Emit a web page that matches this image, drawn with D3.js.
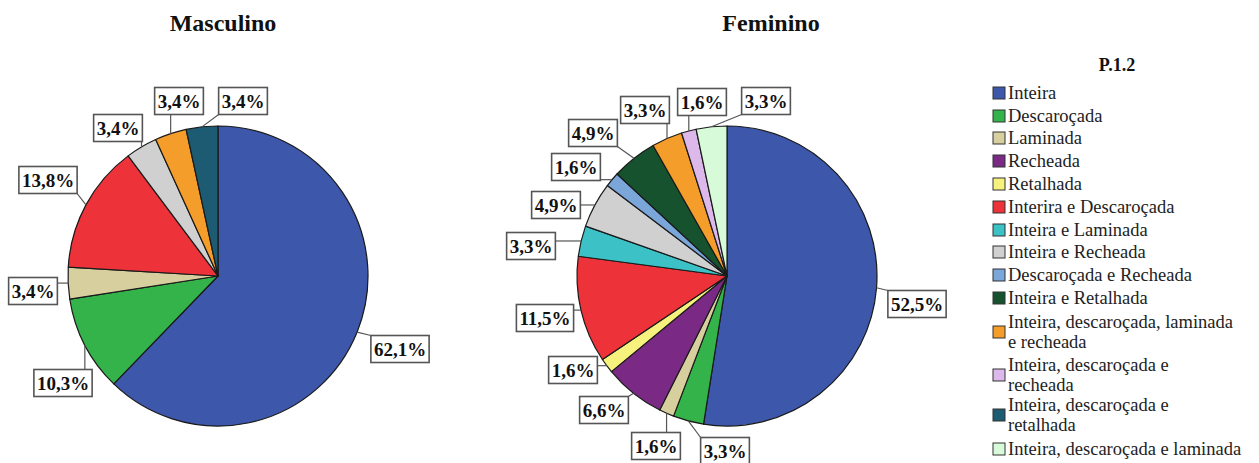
<!DOCTYPE html>
<html>
<head>
<meta charset="utf-8">
<script src="https://cdn.jsdelivr.net/npm/d3@7"></script>
<style>
  html, body { margin: 0; padding: 0; background: #fff; }
  svg { display: block; }
</style>
</head>
<body>
<svg id="chart" width="1259" height="463"></svg>
<script>
// ---- data ----
const categories = [
  "Inteira",
  "Descaroçada",
  "Laminada",
  "Recheada",
  "Retalhada",
  "Interira e Descaroçada",
  "Inteira e Laminada",
  "Inteira e Recheada",
  "Descaroçada e Recheada",
  "Inteira e Retalhada",
  "Inteira, descaroçada, laminada e recheada",
  "Inteira, descaroçada e recheada",
  "Inteira, descaroçada e retalhada",
  "Inteira, descaroçada e laminada"
];
const masculinoValues = [62.1, 10.3, 3.4, 0, 0, 13.8, 0, 3.4, 0, 0, 3.4, 0, 3.4, 0];
const femininoValues  = [52.5, 3.3, 1.6, 6.6, 1.6, 11.5, 3.3, 4.9, 1.6, 4.9, 3.3, 1.6, 0, 3.3];
const panelTitles = ["Masculino", "Feminino"];
const legendTitle = "P.1.2";
// legend text split into lines as shown in the picture
const legendLines = [
  ["Inteira"], ["Descaroçada"], ["Laminada"], ["Recheada"], ["Retalhada"],
  ["Interira e Descaroçada"], ["Inteira e Laminada"], ["Inteira e Recheada"],
  ["Descaroçada e Recheada"], ["Inteira e Retalhada"],
  ["Inteira, descaroçada, laminada", "e recheada"],
  ["Inteira, descaroçada e", "recheada"],
  ["Inteira, descaroçada e", "retalhada"],
  ["Inteira, descaroçada e laminada"]
];

// ---- styles / layout ----
const colors = [
  "#3d57ab", "#33b34a", "#d8cf9e", "#7a2a84", "#f7f27e", "#ed3239", "#3cc2c6",
  "#d0d0d0", "#7aa6da", "#17522e", "#f59d2a", "#dcb9ea", "#1c5b72", "#d7fbd8"
];
const pies = [
  { values: masculinoValues, cx: 218, cy: 276, r: 150, titleX: 223,
    labelPos: {0:[400,349],1:[63,383],2:[33,291],5:[48,180],7:[118,128],10:[179,101],12:[243,101]} },
  { values: femininoValues, cx: 727, cy: 276, r: 150, titleX: 771,
    labelPos: {0:[917,304],1:[725,451],2:[656,446],3:[604,410],4:[573,370],5:[545,318],
               6:[531,246],7:[556,205],8:[576,167],9:[593,133],10:[645,110],11:[702,102],13:[766,101]} }
];

const svg = d3.select("#chart");
svg.append("rect").attr("width", 1259).attr("height", 463).attr("fill", "#fff");

const fmt = v => d3.format(".1f")(v).replace(".", ",") + "%";
const serif = "'Liberation Serif', 'Times New Roman', serif";

pies.forEach((p, pi) => {
  const pie = d3.pie().sort(null).value(d => d).startAngle(0).endAngle(2 * Math.PI);
  const arcs = pie(p.values).map((a, i) => Object.assign(a, { idx: i }));
  const arc = d3.arc().innerRadius(0).outerRadius(p.r);
  const g = svg.append("g").attr("transform", `translate(${p.cx},${p.cy})`);

  // title
  svg.append("text")
    .attr("x", p.titleX).attr("y", 31)
    .attr("text-anchor", "middle")
    .attr("font-family", serif).attr("font-weight", "bold").attr("font-size", 24)
    .attr("fill", "#111")
    .text(panelTitles[pi]);

  const nonZero = arcs.filter(a => a.data > 0);
  g.selectAll("path.slice").data(nonZero).enter().append("path")
    .attr("class", "slice")
    .attr("d", arc)
    .attr("fill", a => colors[a.idx])
    .attr("stroke", "#1a1a1a")
    .attr("stroke-width", 1.2)
    .attr("stroke-linejoin", "round");

  // labels
  const lg = svg.append("g");
  nonZero.forEach(a => {
    const pos = p.labelPos[a.idx];
    if (!pos) return;
    const mid = (a.startAngle + a.endAngle) / 2;
    const ax = p.cx + p.r * Math.sin(mid);
    const ay = p.cy - p.r * Math.cos(mid);
    const t = lg.append("text")
      .attr("x", pos[0]).attr("y", pos[1])
      .attr("text-anchor", "middle").attr("dominant-baseline", "central")
      .attr("font-family", serif).attr("font-weight", "bold").attr("font-size", 19)
      .attr("fill", "#111")
      .text(fmt(a.data));
    const bb = t.node().getBBox();
    const w = bb.width + 6, h = 27;
    const x0 = pos[0] - w / 2, y0 = pos[1] - h / 2;
    // leader line to nearest point on box
    const nx = Math.max(x0, Math.min(ax, x0 + w));
    const ny = Math.max(y0, Math.min(ay, y0 + h));
    lg.insert("line", "text")
      .attr("x1", ax).attr("y1", ay).attr("x2", nx).attr("y2", ny)
      .attr("stroke", "#555").attr("stroke-width", 1.2);
    lg.insert("rect", "text")
      .attr("x", x0).attr("y", y0).attr("width", w).attr("height", h)
      .attr("fill", "#fff").attr("stroke", "#555").attr("stroke-width", 1.6);
  });
});

// legend
const leg = svg.append("g");
leg.append("text")
  .attr("x", 1117).attr("y", 71)
  .attr("text-anchor", "middle")
  .attr("font-family", serif).attr("font-weight", "bold").attr("font-size", 18)
  .attr("fill", "#111")
  .text(legendTitle);

const rowY = [93, 116, 138, 161, 184, 207, 230, 252, 275, 298, 322, 365, 405, 449];
const lineGap = 20;
categories.forEach((c, i) => {
  const lines = legendLines[i];
  const y = rowY[i];
  const swY = y + (lines.length - 1) * lineGap / 2;
  leg.append("rect")
    .attr("x", 993).attr("y", swY - 6).attr("width", 12).attr("height", 12)
    .attr("fill", colors[i]).attr("stroke", "#333").attr("stroke-width", 1);
  lines.forEach((ln, k) => {
    leg.append("text")
      .attr("x", 1008).attr("y", y + k * lineGap)
      .attr("dominant-baseline", "central")
      .attr("font-family", serif).attr("font-size", 18.5)
      .attr("fill", "#222")
      .text(ln);
  });
});
</script>
</body>
</html>
